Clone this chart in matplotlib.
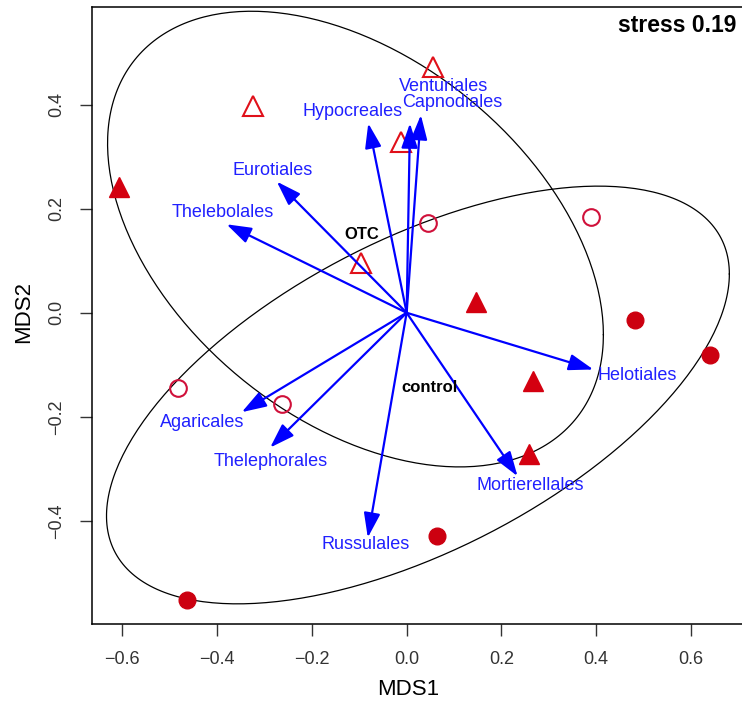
import numpy as np
import matplotlib
matplotlib.use("Agg")
import matplotlib.pyplot as plt

plt.rcParams['font.family'] = ['Liberation Sans', 'DejaVu Sans']

# punkty (NMDS)
open_tri_x = [0.055, -0.324, -0.011, -0.097]
open_tri_y = [0.473, 0.397, 0.329, 0.095]
fill_tri_x = [-0.608, 0.147, 0.267, 0.259]
fill_tri_y = [0.242, 0.021, -0.131, -0.272]
open_circ_x = [0.044, 0.390, -0.482, -0.264]
open_circ_y = [0.172, 0.184, -0.144, -0.176]
fill_circ_x = [0.482, 0.641, 0.065, -0.463]
fill_circ_y = [-0.013, -0.081, -0.429, -0.551]

# wektory (envfit)
taxa = ["Hypocreales", "Venturiales", "Capnodiales", "Eurotiales", "Thelebolales",
        "Helotiales", "Mortierellales", "Russulales", "Agaricales", "Thelephorales"]
arrow_x = [-0.081, 0.030, 0.007, -0.274, -0.380, 0.394, 0.234, -0.082, -0.348, -0.288]
arrow_y = [0.364, 0.380, 0.364, 0.252, 0.170, -0.109, -0.314, -0.432, -0.191, -0.259]
label_x = [-0.115, 0.077, 0.096, -0.283, -0.389, 0.487, 0.260, -0.086, -0.432, -0.286]
label_y = [0.386, 0.435, 0.405, 0.274, 0.193, -0.120, -0.332, -0.445, -0.210, -0.285]

# elipsy grup
groups = ["OTC", "control"]
ell_center = [(-0.108, 0.1416), (0.0238, -0.158)]
ell_shape = [[[0.2737, -0.0961], [-0.0961, 0.1917]],
             [[0.4319, 0.1528], [0.1528, 0.1611]]]
group_label_xy = [(-0.094, 0.151), (0.049, -0.144)]

fig = plt.figure(figsize=(7.42, 7.03), dpi=100)
ax = fig.add_axes([92 / 742, 79.3 / 703, 653 / 742, 616.4 / 703])
ax.set_xlim(-0.664, 0.714)
ax.set_ylim(-0.5975, 0.587)

# elipsy
t = np.linspace(0, 2 * np.pi, 300)
for c, S in zip(ell_center, ell_shape):
    L = np.linalg.cholesky(np.array(S))
    pts = L @ np.vstack([np.cos(t), np.sin(t)])
    ax.plot(pts[0] + c[0], pts[1] + c[1], color="black", lw=0.9)

# punkty
ax.plot(open_tri_x, open_tri_y, "^", ms=14, mfc="none", mec="#e0101a", mew=1.5, ls="none")
ax.plot(fill_tri_x, fill_tri_y, "^", ms=14, color="#d40010", ls="none")
ax.plot(open_circ_x, open_circ_y, "o", ms=12, mfc="none", mec="#d0103a", mew=1.5, ls="none")
ax.plot(fill_circ_x, fill_circ_y, "o", ms=12, color="#cc0010", ls="none")

# strzałki
for name, x, y, lx, ly in zip(taxa, arrow_x, arrow_y, label_x, label_y):
    ax.annotate("", xy=(x, y), xytext=(0, 0),
                arrowprops=dict(arrowstyle="-|>,head_length=0.75,head_width=0.25",
                                color="#0000ff", lw=1.6, mutation_scale=20,
                                shrinkA=0, shrinkB=0))
    ax.text(lx, ly, name, color="#2020ff", fontsize=13, ha="center", va="center")

for g, (gx, gy) in zip(groups, group_label_xy):
    ax.text(gx, gy, g, fontsize=12, fontweight="bold", ha="center", va="center")

ax.text((736 - 92) / 653, 1 - 18 / 616.4, "stress 0.19", transform=ax.transAxes,
        fontsize=16.5, fontweight="bold", ha="right", va="center")

ax.set_xticks([-0.6, -0.4, -0.2, 0.0, 0.2, 0.4, 0.6])
ax.set_yticks([-0.4, -0.2, 0.0, 0.2, 0.4])
ax.set_xticklabels(["\u22120.6", "\u22120.4", "\u22120.2", "0.0", "0.2", "0.4", "0.6"])
ax.set_yticklabels(["\u22120.4", "\u22120.2", "0.0", "0.2", "0.4"], rotation=90, va="center")
ax.tick_params(labelsize=13, length=8.5, width=1, pad=11, color="#333333", labelcolor="#333333")
for s in ax.spines.values():
    s.set_linewidth(1.1)
ax.spines["right"].set_visible(False)

ax.set_xlabel("MDS1", fontsize=16)
ax.set_ylabel("MDS2", fontsize=16)
ax.xaxis.set_label_coords((407.7 - 92) / 653, -(679 - 623.7) / 616.4)
ax.yaxis.set_label_coords(-(92 - 34) / 653, (623.7 - 312) / 616.4)

fig.savefig("out.png", dpi=100)
